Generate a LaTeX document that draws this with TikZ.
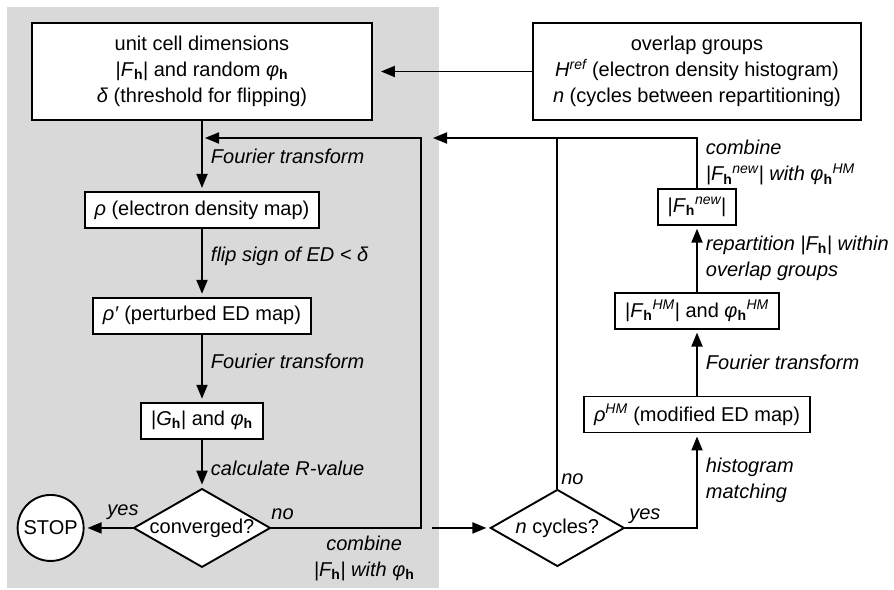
\documentclass[tikz,border=0pt]{standalone}
\usepackage{fontspec}
\setmainfont{Liberation Sans}
\usepackage{tikz}
\usetikzlibrary{positioning,arrows.meta,shapes.geometric}

% |F_h| y phi_h con h en negrita
\newcommand{\Fh}{\textit{F}\textsubscript{\upshape\bfseries h}}
\newcommand{\phih}{\textit{φ}\textsubscript{\upshape\bfseries h}}

\begin{document}
\begin{tikzpicture}[
    x=1pt, y=-1pt,
    font=\fontsize{20}{26}\selectfont,
    linea/.style={line width=1.9pt},
    caja/.style={
        draw,
        linea,
        fill=white,
        minimum height=36pt,
        inner xsep=10pt,
        align=center
    },
    rombo/.style={
        draw,
        linea,
        fill=white,
        diamond,
        aspect=1.74,
        minimum width=134pt,
        minimum height=77pt,
        inner sep=0pt
    },
    circulo/.style={draw, linea, fill=white, circle, minimum size=66pt, inner sep=0pt},
    etiqueta/.style={font=\fontsize{20}{26}\selectfont\itshape, inner sep=3pt},
    flecha/.style={-{Triangle[length=14pt,width=11pt]}, linea, shorten >=3pt}
]

\useasboundingbox (0,0) rectangle (894,589);
\fill[black!15] (7,7) rectangle (439,588);

% columna izquierda: charge flipping
\node[caja, minimum width=340pt, minimum height=97pt] (params) at (202,71.5)
{unit cell dimensions\\|\Fh| and random \phih\\\textit{δ} (threshold for flipping)};
\node[caja, below=70pt of params] (rho) {\textit{ρ} (electron density map)};
\node[caja, below=68pt of rho] (rhop) {\textit{ρ′} (perturbed ED map)};
\node[caja, below=67pt of rhop] (Gh) {|\textit{G}\textsubscript{\upshape\bfseries h}| and \phih};
\node[rombo, below=48pt of Gh] (conv) {converged?};
\node[circulo, left=48pt of conv] (stop) {STOP};

% columna derecha: histogram matching
\node[caja, minimum width=328pt, minimum height=97pt] (refs) at (697,71.5)
{overlap groups\\\textit{H}\textsuperscript{\itshape ref} (electron density histogram)\\\textit{n} (cycles between repartitioning)};
\node[rombo, right=218pt of conv] (ncyc) {\textit{n} cycles?};
\node[caja] (rhoHM) at (697,414.5) {\textit{ρ}\textsuperscript{\itshape HM} (modified ED map)};
\node[caja, above=66pt of rhoHM] (FHM) {|\Fh\textsuperscript{\itshape HM}| and \phih\textsuperscript{\itshape HM}};
\node[caja, above=66pt of FHM] (Fnew) {|\Fh\textsuperscript{\itshape new}|};

\coordinate (retL) at (421,138);
\coordinate (puntaL) at (params.south |- retL);
\coordinate (puntaR) at (430,138);
\coordinate (inicioC) at ([xshift=-57pt]ncyc.west);

\draw[flecha, shorten >=8pt] (refs.west) -- (params.east);
\draw[flecha] (params) -- node[etiqueta, right=5pt] (ft1) {Fourier transform} (rho);
\draw[flecha] (rho) -- node[etiqueta, right=5pt, pos=0.4] (flip) {flip sign of ED < δ} (rhop);
\draw[flecha] (rhop) -- node[etiqueta, right=5pt, pos=0.4] (ft2) {Fourier transform} (Gh);
\draw[flecha] (Gh) -- node[etiqueta, right=5pt, pos=0.6] (calcR) {calculate R-value} (conv);
\draw[flecha] (conv) -- node[etiqueta, pos=0, above left, xshift=10pt, yshift=4pt] (siL) {yes} (stop);

% vuelta al mapa de densidad
\draw[flecha] (conv.east) -| node[etiqueta, pos=0, above right, xshift=-4pt, yshift=4pt] (noL) {no}
    node[etiqueta, pos=0.31, below=4pt, align=center] (combL) {combine\\|\Fh| with \phih} (retL)
    -- (puntaL);
\draw[flecha] (inicioC) -- (ncyc.west);

\draw[flecha] (ncyc.east) -| node[etiqueta, pos=0, above right] (siR) {yes}
    node[etiqueta, pos=0.75, right=5pt, align=left] (hist) {histogram\\matching} (rhoHM.south);
\draw[flecha] (rhoHM) -- node[etiqueta, right=5pt] (ft3) {Fourier transform} (FHM);
\draw[flecha] (FHM) -- node[etiqueta, right=5pt, align=left] (repart)
    {repartition |\Fh| within\\overlap groups} (Fnew);
\draw[flecha] (Fnew.north) |- node[etiqueta, pos=0.25, right=5pt, align=left] (combR)
    {combine\\|\Fh\textsuperscript{\itshape new}| with \phih\textsuperscript{\itshape HM}} (puntaR);
\draw[linea] (ncyc.north) -- node[etiqueta, pos=0, above right] (noR) {no} (ncyc.north |- puntaR);

\end{tikzpicture}
\end{document}
